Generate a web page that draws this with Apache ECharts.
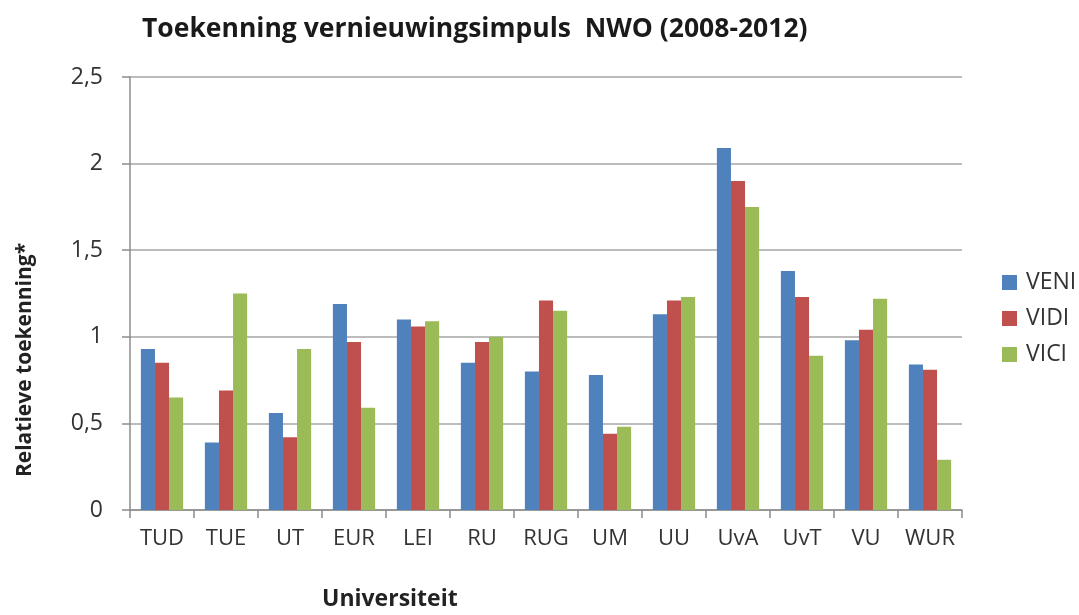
<!DOCTYPE html>
<html>
<head>
<meta charset="utf-8">
<script src="https://cdn.jsdelivr.net/npm/echarts@6/dist/echarts.min.js"></script>
<style>html,body{margin:0;padding:0;background:#fff}#c{width:1079px;height:615px}</style>
</head>
<body>
<div id="c"></div>
<script>
var categories = ['TUD','TUE','UT','EUR','LEI','RU','RUG','UM','UU','UvA','UvT','VU','WUR'];
var veni = [0.93, 0.39, 0.56, 1.19, 1.10, 0.85, 0.80, 0.78, 1.13, 2.09, 1.38, 0.98, 0.84];
var vidi = [0.85, 0.69, 0.42, 0.97, 1.06, 0.97, 1.21, 0.44, 1.21, 1.90, 1.23, 1.04, 0.81];
var vici = [0.65, 1.25, 0.93, 0.59, 1.09, 1.00, 1.15, 0.48, 1.23, 1.75, 0.89, 1.22, 0.29];
var seriesNames = ['VENI','VIDI','VICI'];
var yTicks = {min: 0, max: 2.5, interval: 0.5};

var font = '"Open Sans", "Liberation Sans", sans-serif';
var chart = echarts.init(document.getElementById('c'), null, {renderer: 'canvas'});
var colors = ['#4F81BD', '#C0504D', '#9BBB59'];
var dataSets = [veni, vidi, vici];
chart.setOption({
  animation: false,
  color: colors,
  title: {
    text: 'Toekenning vernieuwingsimpuls  NWO (2008-2012)',
    left: 137, top: 11,
    textStyle: {fontFamily: font, fontWeight: 'bold', fontSize: 26.5, color: '#1a1a1a'}
  },
  legend: {
    orient: 'vertical', left: 997, top: 266,
    itemWidth: 15, itemHeight: 15, itemGap: 13, icon: 'rect',
    textStyle: {fontFamily: font, fontSize: 23, color: '#333', padding: [0, 0, 0, 4]},
    data: seriesNames
  },
  grid: {left: 130, right: 117, top: 77, bottom: 105},
  xAxis: {
    type: 'category', data: categories,
    axisLine: {lineStyle: {color: '#8c8c8c', width: 1.5}},
    axisTick: {show: true, length: 8, alignWithLabel: false, interval: 0, lineStyle: {color: '#8c8c8c', width: 1.5}},
    axisLabel: {fontFamily: font, fontSize: 22, color: '#333', margin: 18, interval: 0, hideOverlap: false}
  },
  yAxis: {
    type: 'value', min: yTicks.min, max: yTicks.max, interval: yTicks.interval,
    axisLine: {show: true, lineStyle: {color: '#8c8c8c', width: 1.5}},
    axisTick: {show: true, length: 8, lineStyle: {color: '#8c8c8c', width: 1.5}},
    splitLine: {lineStyle: {color: '#a6a6a6', width: 1.5}},
    axisLabel: {fontFamily: font, fontSize: 23, color: '#333', margin: 27,
      formatter: function (v) { return String(v).replace('.', ','); }}
  },
  graphic: [
    {type: 'text', left: 322, top: 588, style: {text: 'Universiteit', font: 'bold 23px ' + font, fill: '#222'}},
    {type: 'text', x: 25, y: 360, rotation: Math.PI / 2, style: {text: 'Relatieve toekenning*', font: 'bold 21px ' + font, fill: '#222', align: 'center', verticalAlign: 'middle'}}
  ],
  series: seriesNames.map(function (n, i) {
    return {name: n, type: 'bar', data: dataSets[i], barGap: '0%', barCategoryGap: '34%'};
  })
});
</script>
</body>
</html>
